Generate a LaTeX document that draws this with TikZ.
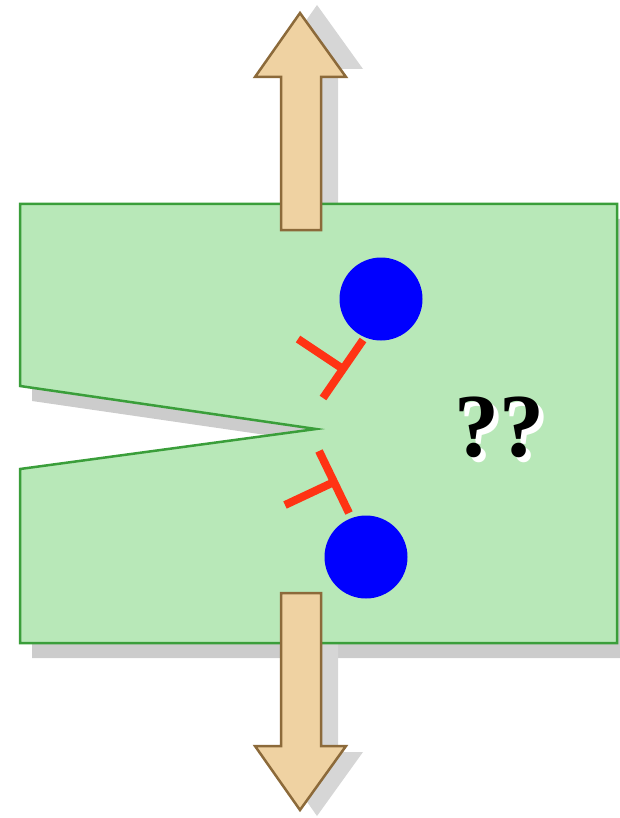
\documentclass[tikz,border=0pt]{standalone}
\usepackage{fontspec}
\setmainfont{Liberation Serif}
\usetikzlibrary{calc,positioning}
\definecolor{platefill}{HTML}{B8E8B8}
\definecolor{plateedge}{HTML}{3A9E3A}
\definecolor{loadfill}{HTML}{EFD2A2}
\definecolor{loadedge}{HTML}{8C6A3A}
\definecolor{dislred}{HTML}{FF3314}
\definecolor{shadowgray}{HTML}{CCCCCC}
\definecolor{lightshadow}{HTML}{D6D6D6}
\tikzset{
  plate/.style={fill=platefill,draw=plateedge,line width=2.5pt},
  plateshadow/.style={fill=shadowgray},
  loadarrow/.style={fill=loadfill,draw=loadedge,line width=2.5pt},
  loadshadow/.style={fill=lightshadow},
  disl/.style={dislred,line width=8pt},
  atom/.style={circle,fill=blue,minimum size=83pt,inner sep=0pt},
  query/.style={font=\fontsize{90}{90}\selectfont\bfseries,inner sep=0pt}
}

\begin{document}
\begin{tikzpicture}[x=1pt,y=-1pt]
\useasboundingbox (0,0) rectangle (620,818);
% shadows
\fill[plateshadow,shift={(12,15)}] (20,204) -- (617,204) -- (617,643) -- (20,643) -- (20,469) -- (316,429) -- (20,386) -- cycle;
\fill[loadshadow,shift={(17,-8)}] (281,230) -- (281,77) -- (255,77) -- (300,13) -- (346,77) -- (321,77) -- (321,230) -- cycle;
\fill[loadshadow,shift={(17,6)}] (281,593) -- (281,746) -- (255,746) -- (300,810) -- (346,746) -- (321,746) -- (321,593) -- cycle;
% cracked plate
\draw[plate] (20,204) -- (617,204) -- (617,643) -- (20,643) -- (20,469) -- (316,429) -- (20,386) -- cycle;
% load arrows
\draw[loadarrow] (281,230) -- (281,77) -- (255,77) -- (300,13) -- (346,77) -- (321,77) -- (321,230) -- cycle;
\draw[loadarrow] (281,593) -- (281,746) -- (255,746) -- (300,810) -- (346,746) -- (321,746) -- (321,593) -- cycle;
% dislocations
\coordinate (barTa) at (323,398);
\coordinate (barTb) at (363,340);
\coordinate (stemT) at (298,339);
\coordinate (barBa) at (319,451);
\coordinate (barBb) at (349,513);
\coordinate (stemB) at (285,505);
\draw[disl] (barTa) -- (barTb);
\draw[disl] ($(barTa)!.5!(barTb)$) -- (stemT);
\draw[disl] (barBa) -- (barBb);
\draw[disl] ($(barBa)!.5!(barBb)$) -- (stemB);
% atoms
\node[atom] (atomTop) at (381,299) {};
\node[atom] (atomBot) at (366,557) {};
% question
\node[query,text=white] (queryShadow) at (504,432) {??};
\node[query] (queryText) at (499,427) {??};
\end{tikzpicture}
\end{document}
